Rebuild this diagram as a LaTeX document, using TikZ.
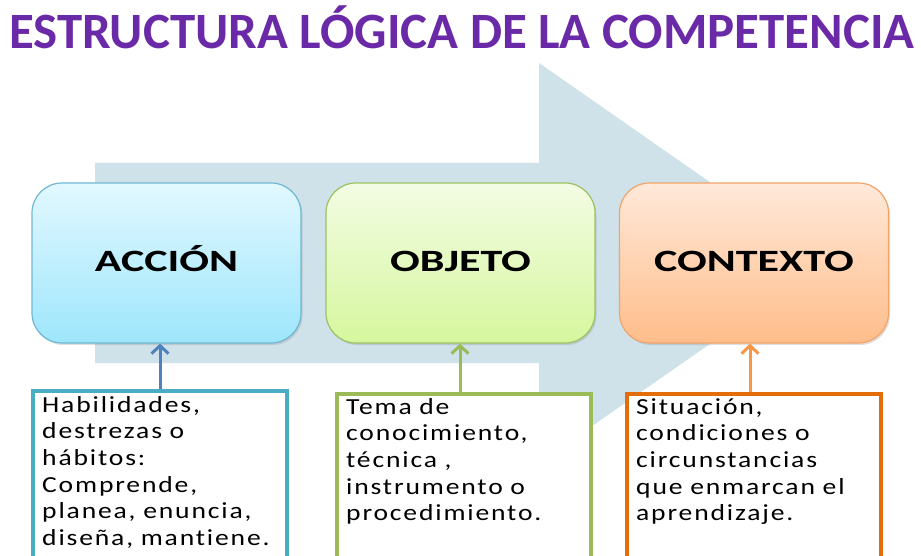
\documentclass[tikz,border=0pt]{standalone}
\usepackage{fontspec}
\setmainfont{Carlito}
\newfontfamily\widetext[FakeStretch=1.2, LetterSpace=8, Ligatures=NoCommon]{Carlito}
\newfontfamily\widelabel[FakeStretch=1.42]{Carlito}
\usetikzlibrary{arrows.meta,shadows}
\definecolor{titlepurple}{HTML}{6A2AA8}
\definecolor{bigarrow}{HTML}{CFE1E9}
\definecolor{acTop}{HTML}{E2F8FF}
\definecolor{acBot}{HTML}{9EE6FC}
\definecolor{acLine}{HTML}{6FB8D2}
\definecolor{obTop}{HTML}{F3FCE4}
\definecolor{obBot}{HTML}{D6F79E}
\definecolor{obLine}{HTML}{9DC263}
\definecolor{coTop}{HTML}{FFE9DA}
\definecolor{coBot}{HTML}{FFBD8A}
\definecolor{coLine}{HTML}{F2A468}
\definecolor{blueArr}{HTML}{4F81BD}
\definecolor{greenArr}{HTML}{9BBB59}
\definecolor{orangeArr}{HTML}{F79646}
\definecolor{boxBlue}{HTML}{4BACC6}
\definecolor{boxGreen}{HTML}{9BBB59}
\definecolor{boxOrange}{HTML}{E46C0A}
\tikzset{
  mainbox/.style={draw, line width=1.2pt, rounded corners=30pt, minimum width=269pt, minimum height=160pt,
    text height=18pt, text depth=0pt,
    font=\widelabel\fontsize{31}{36}\selectfont\bfseries, drop shadow={opacity=0.25, shadow xshift=1.5pt, shadow yshift=-2pt}},
  descbox/.style={draw, line width=4pt, fill=white, minimum width=254pt, minimum height=190pt, anchor=north,
    drop shadow={opacity=0.25, shadow xshift=1.5pt, shadow yshift=-2pt}},
  desctext/.style={anchor=north west, inner sep=0pt, text width=250pt, align=left,
    font=\widetext\fontsize{23}{26.7}\selectfont},
  uparrow/.style={line width=3pt, -{Straight Barb[length=8pt, width=17pt, line width=3pt]}}
}
\begin{document}
\begin{tikzpicture}[x=1pt,y=-1pt]
\useasboundingbox (0,0) rectangle (921,556);
\clip (0,0) rectangle (921,556);
\fill[white] (0,0) rectangle (921,556);
% big background arrow
\fill[bigarrow] (95,163) -- (539,163) -- (539,63) -- (826,263) -- (539,463) -- (539,363) -- (95,363) -- cycle;
% title
\node[titlepurple, inner sep=0pt, anchor=center] (title) at (462,27)
  {\resizebox{905pt}{!}{\bfseries ESTRUCTURA LÓGICA DE LA COMPETENCIA}};
% main boxes
\node[mainbox, draw=acLine, top color=acTop, bottom color=acBot] (accion) at (166.5,263) {ACCIÓN};
\node[mainbox, draw=obLine, top color=obTop, bottom color=obBot] (objeto) at (460.5,263) {OBJETO};
\node[mainbox, draw=coLine, top color=coTop, bottom color=coBot] (contexto) at (754,263) {CONTEXTO};
% description boxes
\node[descbox, draw=boxBlue] (dacc) at (160,389) {};
\node[descbox, draw=boxGreen] (dobj) at (463.5,392) {};
\node[descbox, draw=boxOrange] (dcon) at (754,392) {};
\node[desctext] (tacc) at (42,396) {Habilidades,\\ destrezas o\\ hábitos:\\ Comprende,\\ planea, enuncia,\\ diseña, mantiene.};
\node[desctext] (tobj) at (346,398) {Tema de\\ conocimiento,\\ técnica ,\\ instrumento o\\ procedimiento.};
\node[desctext] (tcon) at (636,398) {Situación,\\ condiciones o\\ circunstancias\\ que enmarcan el\\ aprendizaje.};
% connectors
\draw[uparrow, blueArr] (dacc.north -| 160,0) -- (accion.south -| 160,0);
\draw[uparrow, greenArr] (dobj.north -| 460,0) -- (objeto.south -| 460,0);
\draw[uparrow, orangeArr] (dcon.north -| 750,0) -- (contexto.south -| 750,0);
\end{tikzpicture}
\end{document}
